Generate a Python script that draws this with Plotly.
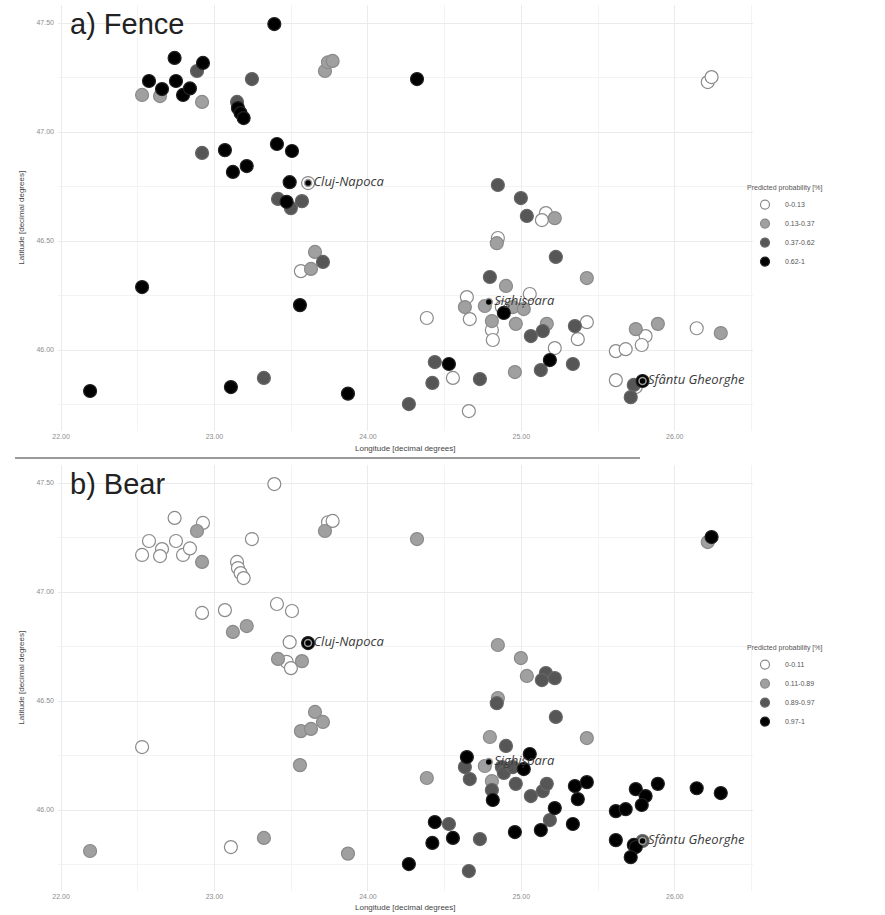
import plotly.graph_objects as go

# ---- data ----
lon = [23.39, 22.74, 22.925, 22.886, 22.573, 22.749, 22.658, 22.528, 22.645, 22.795,
       22.84, 22.919, 23.244, 23.147, 23.153, 23.17, 23.19, 23.72, 23.74, 23.77,
       24.32, 22.919, 23.068, 23.12, 23.21, 23.407, 23.505, 23.49, 23.61, 23.414,
       23.47, 23.498, 23.57, 22.189, 22.528, 23.107, 23.322, 23.87, 24.267, 24.384,
       24.436, 24.42, 24.528, 23.557, 23.563, 23.629, 23.655, 23.707, 24.84, 24.847,
       25.225, 24.795, 24.90, 25.427, 24.645, 24.762, 24.632, 25.055, 24.873, 24.886,
       24.945, 25.016, 24.664, 24.808, 24.808, 24.814, 24.964, 25.062, 25.14, 25.166,
       25.349, 25.427, 25.368, 25.218, 25.186, 25.336, 25.127, 24.958, 24.73, 24.554,
       24.658, 25.616, 25.68, 25.746, 25.81, 25.785, 25.89, 26.143, 26.30, 25.616,
       25.733, 25.746, 25.713, 25.79, 26.215, 26.24, 24.847, 24.997, 25.036, 25.16,
       25.134, 25.218]
lat = [47.495, 47.34, 47.317, 47.28, 47.234, 47.234, 47.197, 47.17, 47.165, 47.17,
       47.20, 47.138, 47.243, 47.138, 47.11, 47.087, 47.064, 47.28, 47.32, 47.326,
       47.243, 46.904, 46.917, 46.817, 46.844, 46.945, 46.913, 46.77, 46.766, 46.693,
       46.68, 46.651, 46.683, 45.812, 46.289, 45.83, 45.872, 45.80, 45.752, 46.147,
       45.945, 45.849, 45.936, 46.206, 46.362, 46.372, 46.45, 46.404, 46.49, 46.514,
       46.427, 46.335, 46.294, 46.33, 46.243, 46.202, 46.197, 46.257, 46.197, 46.17,
       46.197, 46.188, 46.142, 46.133, 46.092, 46.046, 46.12, 46.064, 46.087, 46.12,
       46.11, 46.128, 46.05, 46.009, 45.954, 45.936, 45.908, 45.899, 45.867, 45.872,
       45.72, 45.995, 46.004, 46.096, 46.064, 46.023, 46.12, 46.10, 46.078, 45.862,
       45.84, 45.83, 45.784, 45.858, 47.229, 47.252, 46.757, 46.697, 46.615, 46.628,
       46.596, 46.605]
fence_class = [3, 3, 3, 2, 3, 3, 3, 1, 1, 3,
               3, 1, 2, 2, 3, 3, 3, 1, 1, 1,
               3, 2, 3, 3, 3, 3, 3, 3, 0, 2,
               3, 2, 2, 3, 3, 3, 2, 3, 2, 0,
               2, 2, 3, 3, 0, 1, 1, 2, 1, 0,
               2, 2, 1, 1, 0, 1, 1, 0, 0, 3,
               1, 1, 0, 1, 0, 0, 1, 2, 2, 1,
               2, 0, 0, 0, 3, 2, 2, 1, 2, 0,
               0, 0, 0, 1, 0, 0, 1, 0, 1, 0,
               2, 0, 2, 3, 0, 0, 2, 2, 2, 0,
               0, 1]
bear_class = [0, 0, 0, 1, 0, 0, 0, 0, 0, 0,
              0, 1, 0, 0, 0, 0, 0, 1, 0, 0,
              1, 0, 0, 1, 1, 0, 0, 0, 3, 1,
              0, 0, 1, 1, 0, 0, 1, 1, 3, 1,
              3, 3, 2, 1, 1, 1, 1, 1, 2, 1,
              2, 1, 2, 1, 3, 1, 2, 3, 2, 2,
              2, 3, 2, 1, 2, 3, 2, 2, 2, 2,
              3, 3, 3, 3, 2, 3, 3, 3, 2, 3,
              2, 3, 3, 3, 3, 3, 3, 3, 3, 3,
              3, 3, 3, 2, 1, 3, 1, 1, 1, 2,
              2, 2]
fence_labels = ["0-0.13", "0.13-0.37", "0.37-0.62", "0.62-1"]
bear_labels = ["0-0.11", "0.11-0.89", "0.89-0.97", "0.97-1"]
panel_titles = ["a) Fence", "b) Bear"]

city_names = ["Cluj-Napoca", "Sighișoara", "Sfântu Gheorghe"]
city_lon = [23.61, 24.788, 25.79]
city_lat = [46.766, 46.22, 45.858]

# ---- style ----
class_fill = ["#ffffff", "#a0a0a0", "#565656", "#000000"]
class_edge = ["#8a8a8a", "#8a8a8a", "#666666", "#222222"]

fig = go.Figure()

panels = [("x", "y", fence_class, fence_labels, "legend"),
          ("x2", "y2", bear_class, bear_labels, "legend2")]

for xa, ya, cls, labels, leg in panels:
    for k in range(4):
        xs = [lo for lo, c in zip(lon, cls) if c == k]
        ys = [la for la, c in zip(lat, cls) if c == k]
        fig.add_trace(go.Scatter(
            x=xs, y=ys, mode="markers", xaxis=xa, yaxis=ya,
            marker=dict(size=13, color=class_fill[k],
                        line=dict(color=class_edge[k], width=1.2)),
            showlegend=False, hoverinfo="skip"))
        # legend-only entry
        fig.add_trace(go.Scatter(
            x=[None], y=[None], mode="markers", xaxis=xa, yaxis=ya,
            marker=dict(size=9, color=class_fill[k],
                        line=dict(color=class_edge[k], width=1.2)),
            name=labels[k], legend=leg, showlegend=True))
    fig.add_trace(go.Scatter(
        x=city_lon, y=city_lat, text=city_names,
        mode="markers+text",
        xaxis=xa, yaxis=ya, textposition="middle right",
        textfont=dict(family="Open Sans, sans-serif", size=13, color="#3a3a3a",
                      style="italic"),
        marker=dict(size=7, color="#000000", line=dict(color="#9a9a9a", width=1.5)),
        showlegend=False, hoverinfo="skip"))

W, H = 885, 915
xdom = [58 / W, 753 / W]
top_dom = [1 - 430.7 / H, 1 - 4.7 / H]
bot_dom = [1 - 890.7 / H, 1 - 464.7 / H]

axis_common = dict(showline=False, zeroline=False, ticks="",
                   gridcolor="#ebebeb", gridwidth=1,
                   tickfont=dict(family="Liberation Sans, Arial", size=7, color="#8c8c8c"),
                   tickformat=".2f", automargin=False)

leg_font = dict(family="Liberation Sans, Arial", size=7, color="#555555")

fig.update_layout(
    width=W, height=H, margin=dict(l=0, r=0, t=0, b=0),
    paper_bgcolor="white", plot_bgcolor="white",
    xaxis=dict(domain=xdom, range=[21.98, 26.51], anchor="y", dtick=1, tick0=22,
               minor=dict(dtick=0.5, tick0=22, showgrid=True, gridcolor="#f3f3f3"),
               **axis_common),
    yaxis=dict(domain=top_dom, range=[45.63, 47.584], anchor="x", dtick=0.5, tick0=46,
               minor=dict(dtick=0.25, tick0=46, showgrid=True, gridcolor="#f3f3f3"),
               ticklabelstandoff=3, **axis_common),
    xaxis2=dict(domain=xdom, range=[21.98, 26.51], anchor="y2", dtick=1, tick0=22,
                minor=dict(dtick=0.5, tick0=22, showgrid=True, gridcolor="#f3f3f3"),
                **axis_common),
    yaxis2=dict(domain=bot_dom, range=[45.63, 47.584], anchor="x2", dtick=0.5, tick0=46,
                minor=dict(dtick=0.25, tick0=46, showgrid=True, gridcolor="#f3f3f3"),
                ticklabelstandoff=3, **axis_common),
    legend=dict(x=745 / W, y=1 - 181 / H, xanchor="left", yanchor="top",
                title=dict(text="Predicted probability [%]", font=leg_font),
                font=leg_font, bgcolor="rgba(0,0,0,0)", tracegroupgap=0),
    legend2=dict(x=745 / W, y=1 - 641 / H, xanchor="left", yanchor="top",
                 title=dict(text="Predicted probability [%]", font=leg_font),
                 font=leg_font, bgcolor="rgba(0,0,0,0)", tracegroupgap=0),
)

# panel titles
for t, ytop in zip(panel_titles, [6, 466]):
    fig.add_annotation(text=t, xref="paper", yref="paper", x=68 / W, y=1 - ytop / H,
                       xanchor="left", yanchor="top", showarrow=False,
                       font=dict(family="Liberation Sans, Arial", size=29, color="#222"))

# axis titles
for yb, yc in [(448, 217.7), (907, 677.7)]:
    fig.add_annotation(text="Longitude [decimal degrees]", xref="paper", yref="paper",
                       x=405.5 / W, y=1 - yb / H, xanchor="center", yanchor="middle",
                       showarrow=False,
                       font=dict(family="Liberation Sans, Arial", size=8, color="#444"))
    fig.add_annotation(text="Latitude [decimal degrees]", xref="paper", yref="paper",
                       x=22 / W, y=1 - yc / H, xanchor="center", yanchor="middle",
                       textangle=-90, showarrow=False,
                       font=dict(family="Liberation Sans, Arial", size=8, color="#444"))

# separator line between panels
fig.add_shape(type="line", xref="paper", yref="paper", x0=15 / W, x1=640 / W,
              y0=1 - 458 / H, y1=1 - 458 / H, line=dict(color="#9a9a9a", width=2))

fig.write_html("out.html",
               config={"displayModeBar": False},
               post_script="document.body.style.margin='0';"
                           "document.body.style.overflow='hidden';")
